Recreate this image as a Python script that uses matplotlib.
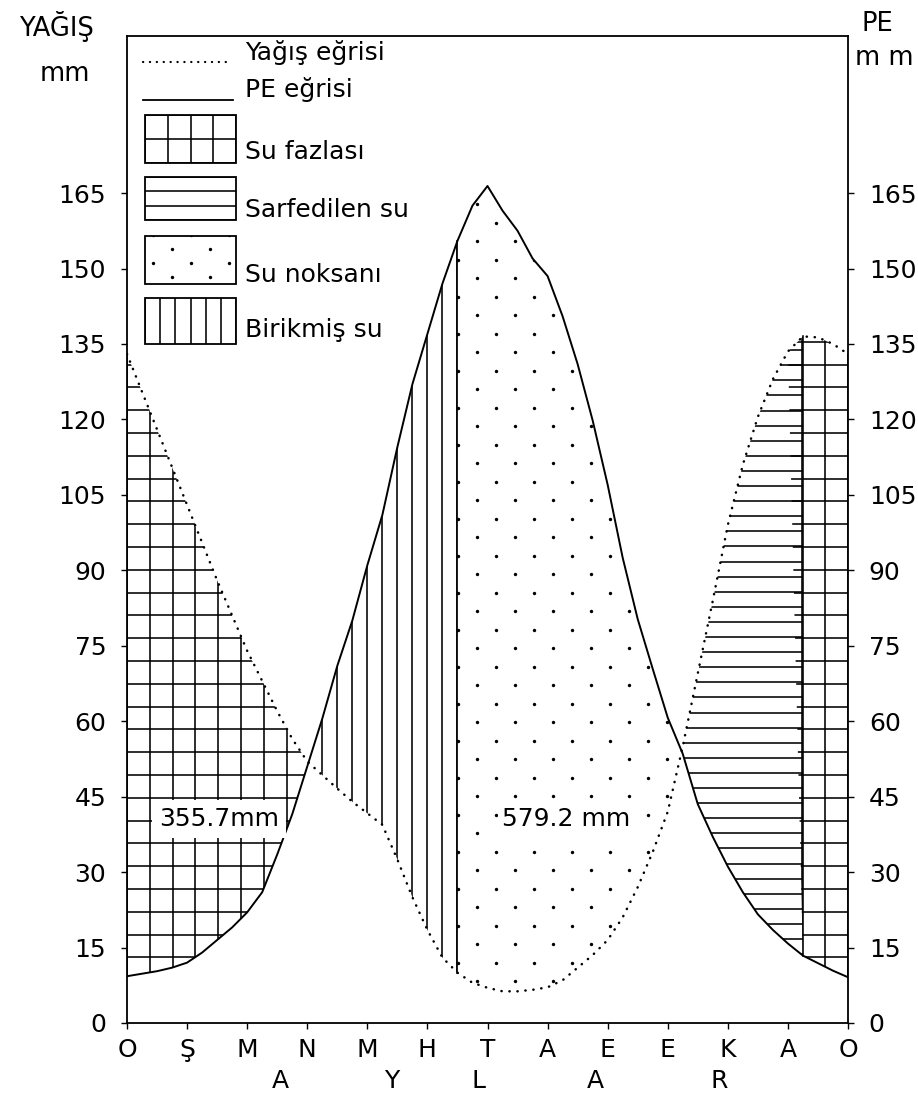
import numpy as np
import matplotlib
matplotlib.use("Agg")
import matplotlib.pyplot as plt
from matplotlib.collections import LineCollection
from matplotlib.patches import Rectangle
from matplotlib.transforms import blended_transform_factory

# ---- data (x in months, 0 = Ocak ... 12 = Ocak) ----
months = ["O", "Ş", "M", "N", "M", "H", "T", "A", "E", "E", "K", "A", "O"]
aylar = ["A", "Y", "L", "A", "R"]
aylar_pos = [2.55, 4.4, 5.85, 7.8, 9.85]

x = [0, 0.25, 0.5, 0.75, 1, 1.25, 1.5, 1.75, 2, 2.25, 2.5, 2.75, 3, 3.25, 3.5,
     3.75, 4, 4.25, 4.5, 4.75, 5, 5.25, 5.5, 5.75, 6, 6.25, 6.5, 6.75, 7, 7.25,
     7.5, 7.75, 8, 8.25, 8.5, 8.75, 9, 9.25, 9.5, 9.75, 10, 10.25, 10.5, 10.75,
     11, 11.25, 11.5, 11.75, 12]
yagis = [133, 125.5, 118, 110.5, 103, 95.5, 88, 81, 74, 68, 62, 56.5, 52, 49.3,
         46.6, 44, 41.7, 39.4, 32.5, 25, 18.5, 13, 10, 8, 7, 6.3, 6.3, 6.6, 7.1,
         8.5, 11, 13.5, 16.5, 21, 27, 34, 42, 55, 69.5, 84, 99, 111, 120.5, 128,
         133.5, 136.5, 136.3, 135, 133]
pe = [9.3, 9.8, 10.3, 11, 12, 14, 16.5, 19, 22, 26, 33.5, 41.5, 51, 60.5, 71,
      80, 91, 101, 114.5, 127, 137, 147, 155.5, 162.5, 166.4, 161.5, 157.5, 152,
      148.5, 140.5, 131, 119.8, 107, 92.5, 80.3, 70.4, 60.7, 53.5, 43.5, 37, 31.1,
      26, 21.6, 18.5, 15.8, 13.4, 11.9, 10.4, 9.1]
y_ticks = list(range(0, 166, 15))

storage_end = 5.5     # end of the vertical-hatched part
recharge_end = 11.25  # end of the horizontal-hatched part
surplus_label = "355.7mm"
deficit_label = "579.2 mm"

legend_labels = ["Yağış eğrisi", "PE eğrisi", "Su fazlası", "Sarfedilen su",
                 "Su noksanı", "Birikmiş su"]

# ---- layout (image pixels) ----
W_PX, H_PX, DPI = 918, 1098, 100
L, R, B, T = 127, 848, 1023, 36
AX_W, AX_H = R - L, B - T
YMAX = AX_H / 5.03

plt.rcParams["font.family"] = ["DejaVu Sans"]
fig = plt.figure(figsize=(W_PX / DPI, H_PX / DPI), dpi=DPI)
ax = fig.add_axes([L / W_PX, 1 - B / H_PX, AX_W / W_PX, AX_H / H_PX])
ax.set_xlim(0, 12)
ax.set_ylim(0, YMAX)
ax.autoscale(False)


def px(xi, yi):
    """image pixel -> axes fraction"""
    return (xi - L) / AX_W, (B - yi) / AX_H


def clip_of(coll):
    return coll.get_paths()[0], ax.transData


def apply_clip(artist, clip):
    if isinstance(clip, tuple):
        artist.set_clip_path(*clip)
    else:
        artist.set_clip_path(clip)


def lines(clip, dx=None, dy=None, x0=0.0, y0=0.0, lw=1.15):
    segs = []
    if dx:
        for xx in np.arange(x0 % dx, AX_W + 0.5, dx):
            segs.append([(xx / AX_W, 0), (xx / AX_W, 1)])
    if dy:
        for yy in np.arange(y0 % dy, AX_H + 0.5, dy):
            segs.append([(0, yy / AX_H), (1, yy / AX_H)])
    lc = LineCollection(segs, colors="k", linewidths=lw, transform=ax.transAxes, zorder=2)
    ax.add_collection(lc, autolim=False)
    apply_clip(lc, clip)


def stipple(clip, dx, dy, x0=0.0, y0=0.0, s=6):
    pts = []
    for j, yy in enumerate(np.arange(y0 % dy, AX_H, dy)):
        off = dx / 2 if j % 2 else 0
        for xx in np.arange((x0 + off) % dx, AX_W, dx):
            pts.append((xx / AX_W, yy / AX_H))
    pts = np.array(pts)
    sc = ax.scatter(pts[:, 0], pts[:, 1], s=s, c="k", linewidths=0,
                    transform=ax.transAxes, zorder=2)
    apply_clip(sc, clip)


X = np.array(x)
P = np.array(yagis)
E = np.array(pe)
kw = dict(facecolor="none", edgecolor="none", interpolate=True)

r1 = ax.fill_between(X, P, E, where=(P >= E) & (X <= 6), **kw)
r2 = ax.fill_between(X, P, E, where=(E >= P) & (X <= storage_end), **kw)
r3 = ax.fill_between(X, P, E, where=(E >= P) & (X >= storage_end), **kw)
r4 = ax.fill_between(X, P, E, where=(P >= E) & (X >= 6) & (X <= recharge_end), **kw)
r5 = ax.fill_between(X, P, E, where=(X >= recharge_end), **kw)

mpx = AX_W / 12.0
lines(clip_of(r1), dx=22.8, dy=22.8, x0=0, y0=20)
lines(clip_of(r2), dx=15.0, x0=storage_end * mpx)
stipple(clip_of(r3), dx=38, dy=18.5, x0=storage_end * mpx + 20, y0=5)
lines(clip_of(r4), dy=15.1, y0=8.5)
lines(clip_of(r5), dx=23.0, dy=22.8, x0=AX_W, y0=20)

for xb in (storage_end, recharge_end):
    i = x.index(xb)
    ax.plot([xb, xb], [P[i], E[i]], color="k", lw=1.15, zorder=2)

ax.plot(X, E, color="k", lw=1.4, zorder=3)
ax.plot(X, P, color="k", lw=1.8, linestyle=(0, (0.1, 3.1)),
        dash_capstyle="round", zorder=3)

ax.text(1.53, 40.5, surplus_label, fontsize=18, ha="center", va="center", zorder=5,
        bbox=dict(facecolor="white", edgecolor="none", pad=5))
ax.text(7.31, 40.5, deficit_label, fontsize=18, ha="center", va="center", zorder=5,
        bbox=dict(facecolor="white", edgecolor="none", pad=3))

# ---- legend drawn by hand in the upper left ----
tr = ax.transAxes
for (x1, x2, yy), ls in zip([(143, 230, 62), (143, 233, 100)],
                            [(0, (0.1, 3.0)), "-"]):
    a, b = px(x1, yy), px(x2, yy)
    ax.plot([a[0], b[0]], [a[1], b[1]], transform=tr, color="k",
            lw=1.6 if ls != "-" else 1.3, linestyle=ls, dash_capstyle="round")

boxes = [(115, 163, "grid"), (177, 220, "h"), (236, 284, "dots"), (298, 344, "v")]
bx1, bx2 = 145, 236
for top, bot, kind in boxes:
    a = px(bx1, bot)
    w = (bx2 - bx1) / AX_W
    h = (bot - top) / AX_H
    rect = Rectangle(a, w, h, transform=tr, facecolor="none", edgecolor="k", lw=1.3, zorder=3)
    ax.add_patch(rect)
    ox, oy = bx1 - L, B - bot
    if kind == "grid":
        lines(rect, dx=(bx2 - bx1) / 4, dy=(bot - top) / 2, x0=ox, y0=oy)
    elif kind == "h":
        lines(rect, dy=(bot - top) / 3, y0=oy)
    elif kind == "v":
        lines(rect, dx=(bx2 - bx1) / 6, x0=ox)
    else:
        stipple(rect, dx=38, dy=14, x0=ox + 8, y0=oy + 7)

for lab, base in zip(legend_labels, [60, 97, 159, 217, 282, 337]):
    ax.text(*px(245, base), lab, transform=tr, fontsize=18, ha="left", va="baseline")

# ---- axes, ticks ----
for sp in ax.spines.values():
    sp.set_linewidth(1.3)
ax.set_yticks(y_ticks)
ax.set_xticks(range(13))
ax.set_xticklabels(months)
ax.tick_params(axis="y", left=True, right=True, labelleft=True, labelright=True,
               labelsize=18, length=4, width=1, pad=11)
ax.tick_params(axis="x", labelsize=18, length=4, width=1, pad=7)

bt = blended_transform_factory(ax.transData, ax.transAxes)
for lab, pos in zip(aylar, aylar_pos):
    ax.text(pos, px(0, 1081)[1], lab, transform=bt, fontsize=18, ha="center", va="center")

fig.text(56 / W_PX, 1 - 26 / H_PX, "YAĞIŞ", fontsize=18.5, ha="center", va="center")
fig.text(65 / W_PX, 1 - 74 / H_PX, "mm", fontsize=18.5, ha="center", va="center")
fig.text(877 / W_PX, 1 - 24 / H_PX, "PE", fontsize=18.5, ha="center", va="center")
fig.text(884 / W_PX, 1 - 58 / H_PX, "m m", fontsize=18.5, ha="center", va="center")

fig.savefig("out.png", dpi=DPI)
plt.close(fig)
